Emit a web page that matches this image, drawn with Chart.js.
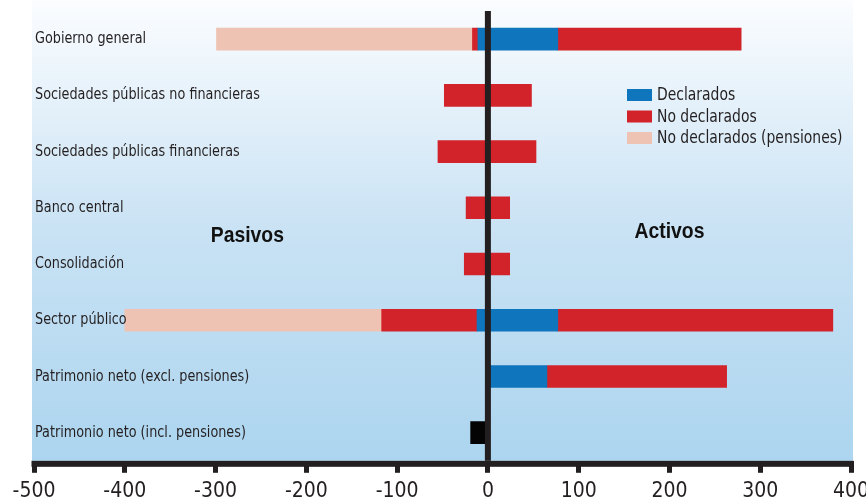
<!DOCTYPE html>
<html>
<head>
<meta charset="utf-8">
<script src="https://cdn.jsdelivr.net/npm/chart.js@4.4.1/dist/chart.umd.min.js"></script>
<style>
  body { margin: 0; background: #ffffff; }
  canvas { display: block; }
</style>
</head>
<body>
<canvas id="chart1" width="866" height="500"></canvas>
<script>
// categorias (de arriba a abajo)
let categories = ['Gobierno general', 'Sociedades públicas no financieras', 'Sociedades públicas financieras',
    'Banco central', 'Consolidación', 'Sector público', 'Patrimonio neto (excl. pensiones)', 'Patrimonio neto (incl. pensiones)'];

// valores
let declaradosPasivos   = [-11, null, null, null, null, -12, null, null];
let declaradosActivos   = [77, null, null, null, null, 77, 65, null];
let noDeclPasivos       = [-6, -48, -55, -24, -26, -105, null, null];
let noDeclActivos       = [202, 48, 53, 24, 24, 303, 198, null];
let pensionesPasivos    = [-282, null, null, null, null, -283, null, null];
let patrimonioIncl      = [null, null, null, null, null, null, null, -19];

let xTicks = [-500, -400, -300, -200, -100, 0, 100, 200, 300, 400];
let legendLabels = ['Declarados', 'No declarados', 'No declarados (pensiones)'];
let sideLabels = ['Pasivos', 'Activos'];

let azul = '#0f75bc';
let rojo = '#d2232a';
let rosa = '#efc3b3';
let negro = '#231f20';
let narrow = '"DejaVu Sans Condensed", "Liberation Sans Narrow", sans-serif';

let fondo = {
    id: 'fondo',
    beforeDraw(chart) {
        let ctx = chart.ctx;
        let a = chart.chartArea;
        let g = ctx.createLinearGradient(0, 0, 0, a.bottom);
        g.addColorStop(0, '#fbfdff');
        g.addColorStop(0.5, '#c9e2f4');
        g.addColorStop(1, '#acd5ef');
        ctx.save();
        ctx.fillStyle = g;
        ctx.fillRect(a.left - 2, 0, a.right - a.left + 4, a.bottom);
        ctx.restore();
    }
};

// texto "estrecho": se comprime en horizontal
function narrowText(ctx, txt, x, y, sx) {
    ctx.save();
    ctx.translate(x, y);
    ctx.scale(sx, 1);
    ctx.fillText(txt, 0, 0);
    ctx.restore();
}

let extras = {
    id: 'extras',
    afterDatasetsDraw(chart) {
        let ctx = chart.ctx;
        let a = chart.chartArea;
        let x = chart.scales.x;
        let y = chart.scales.y;
        ctx.save();
        // linea del cero
        let x0 = x.getPixelForValue(0);
        ctx.fillStyle = negro;
        ctx.fillRect(x0 - 3, a.top, 6, a.bottom - a.top);
        // eje horizontal
        ctx.fillRect(a.left - 2.5, a.bottom, a.right - a.left + 5, 6);

        // etiquetas de categorias
        ctx.font = '16px ' + narrow;
        ctx.textAlign = 'left';
        ctx.textBaseline = 'middle';
        categories.forEach((c, i) => {
            narrowText(ctx, c, a.left + 1, y.getPixelForValue(i), 0.89);
        });

        // Pasivos / Activos
        ctx.font = 'bold 22px "Liberation Sans", Arial, sans-serif';
        ctx.textAlign = 'center';
        ctx.textBaseline = 'alphabetic';
        ctx.fillStyle = '#111';
        narrowText(ctx, sideLabels[0], x.getPixelForValue(-265), y.getPixelForValue(3.6), 0.88);
        narrowText(ctx, sideLabels[1], x.getPixelForValue(200), y.getPixelForValue(3.53), 0.88);

        // leyenda
        let colores = [azul, rojo, rosa];
        ctx.font = '17px ' + narrow;
        ctx.textAlign = 'left';
        ctx.textBaseline = 'middle';
        legendLabels.forEach((lab, i) => {
            let ly = 95 + i * 21.5;
            ctx.fillStyle = colores[i];
            ctx.fillRect(627, ly - 6, 25, 12);
            ctx.fillStyle = negro;
            narrowText(ctx, lab, 657, ly + 1, 0.91);
        });
        ctx.restore();
    }
};

let config = {
    type: 'bar',
    data: {
        labels: categories,
        datasets: [
            { label: 'Declarados', data: declaradosPasivos, backgroundColor: azul },
            { label: 'Declarados', data: declaradosActivos, backgroundColor: azul },
            { label: 'No declarados', data: noDeclPasivos, backgroundColor: rojo },
            { label: 'No declarados', data: noDeclActivos, backgroundColor: rojo },
            { label: 'No declarados (pensiones)', data: pensionesPasivos, backgroundColor: rosa },
            { label: 'Patrimonio neto', data: patrimonioIncl, backgroundColor: '#040404' }
        ]
    },
    options: {
        indexAxis: 'y',
        responsive: false,
        animation: false,
        datasets: { bar: { barThickness: 22, borderWidth: 0 } },
        layout: { padding: { left: 34, right: 15, top: 11, bottom: -10 } },
        plugins: {
            legend: { display: false },
            tooltip: { enabled: false }
        },
        scales: {
            x: {
                stacked: true,
                min: -500,
                max: 400,
                afterBuildTicks: (axis) => { axis.ticks = xTicks.map(v => ({ value: v })); },
                afterFit: (axis) => { axis.paddingLeft = 0; axis.paddingRight = 0; },
                grid: { drawOnChartArea: false, drawTicks: true, tickLength: 12, tickWidth: 5, tickColor: negro },
                border: { display: false },
                ticks: { color: negro, padding: 6, maxRotation: 0, font: { family: narrow, size: 21 } }
            },
            y: {
                display: false,
                stacked: true
            }
        }
    },
    plugins: [fondo, extras]
};

let ctx1 = document.getElementById('chart1').getContext('2d');
new Chart(ctx1, config);
</script>
</body>
</html>
